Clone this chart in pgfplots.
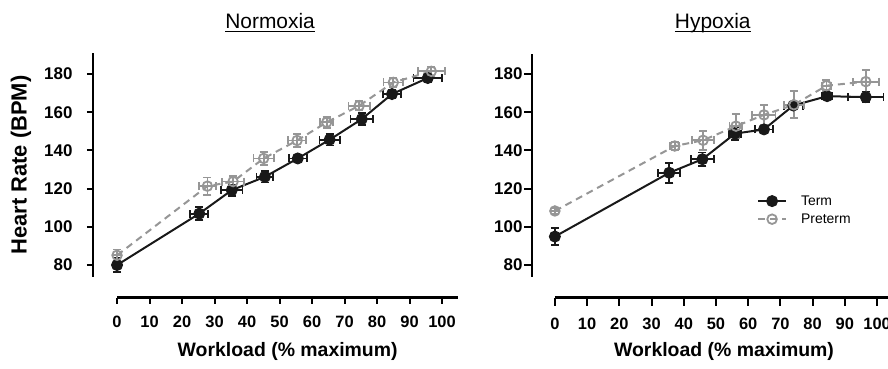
\documentclass[border=0pt]{standalone}
\usepackage{fontspec}
\setmainfont{Liberation Sans}
\usepackage{pgfplots}
\usepackage{pgfplotstable}
\pgfplotsset{compat=1.18}
\definecolor{termc}{RGB}{25,25,25}
\definecolor{prec}{RGB}{150,150,150}
\newcommand\ul[1]{\setbox0\hbox{#1}\rlap{\rule[-3.5bp]{\wd0}{1.3bp}}\box0}

% x y ex ey
\pgfplotstableread{
x y ex ey
0 80.0 0 3.5
25.3 106.9 2.8 3.5
35.3 119.2 3.3 3
45.5 126.2 2.6 3
55.6 135.8 2.8 2
65.4 145.6 3.1 3
75.3 156.4 3.5 3
84.6 169.5 2.8 2
95.6 177.9 4.4 2
}\normterm
\pgfplotstableread{
x y ex ey
0 85.1 0 3
27.8 121.3 2.7 4.5
35.7 123.7 3.3 2.8
45.1 135.8 3.1 3.3
55.4 145.2 2.8 3.5
64.5 154.7 2 3
74.5 163.4 3.3 2.5
85.0 175.6 3 2.5
96.7 181.4 4.1 2.5
}\normpre
\pgfplotstableread{
x y ex ey
0 94.9 0 4.5
35.5 128.3 3.4 5.3
45.8 135.4 3.5 3.5
55.9 148.8 1.8 3.5
64.9 151.0 2.8 2
74.0 163.5 3 2
84.5 168.4 1.5 1.5
96.5 167.9 5.5 2.5
}\hypterm
\pgfplotstableread{
x y ex ey
0 108.3 0 1.5
37.2 142.3 1.5 2
46.0 145.3 3.5 5
56.2 152.7 2 6.2
64.9 158.6 3.6 5.2
74.2 163.9 3 7.1
84.3 173.9 1.5 3
96.5 176.0 4 6
}\hyppre

\pgfplotsset{
 panel/.style={
  scale only axis, height=244.5bp,
  ymin=63, ymax=191,
  axis x line*=bottom, axis y line*=left,
  axis line style={draw=none},
  tick align=outside,
  major tick length=6bp,
  tick style={line width=2bp, black},
  xtick={0,10,...,100}, ytick={80,100,...,180},
  minor tick num=0,
  /pgf/number format/assume math mode=true,
  xticklabel style={font=\bfseries\fontsize{16.5}{16.5}\selectfont, yshift=-9bp},
  yticklabel style={font=\bfseries\fontsize{17}{17}\selectfont},
  clip=false,
  xlabel={Workload (\% maximum)},
  xlabel style={font=\bfseries\fontsize{19.5}{20}\selectfont, at={(axis cs:52.5,63)}, anchor=base, yshift=-59bp},
  title style={font=\fontsize{21}{21}\selectfont, anchor=base},
 },
 termplot/.style={color=termc, line width=2bp, mark=*, mark size=5.5bp,
   mark options={solid, fill=termc, draw=termc, line width=1bp},
   error bars/.cd, x dir=both, x explicit, y dir=both, y explicit,
   error bar style={line width=1.8bp, solid, color=termc},
   error mark options={rotate=90, mark size=4bp, line width=1.8bp, color=termc, solid}},
 preplot/.style={color=prec, line width=2bp, dash pattern=on 7bp off 5bp, mark=o, mark size=4.8bp,
   mark options={solid, draw=prec, fill=none, line width=1.8bp},
   error bars/.cd, x dir=both, x explicit, y dir=both, y explicit,
   error bar style={line width=1.8bp, solid, color=prec},
   error mark options={rotate=90, mark size=4bp, line width=1.8bp, color=prec, solid}},
}

\begin{document}
\begin{tikzpicture}
\useasboundingbox (0,0) rectangle (888bp,369bp);
\begin{axis}[panel, at={(93bp,71.5bp)}, anchor=south west,
  width=365.3bp, xmin=-7.4, xmax=105,
  title={\ul{Normoxia}}, title style={at={(axis cs:47.1,200.8)}},
  yticklabel style={xshift=-11bp},
  ylabel={Heart Rate (BPM)},
  ylabel style={font=\bfseries\fontsize{22}{22}\selectfont, at={(axis cs:-7.4,132.4)}, anchor=center, yshift=72bp},
]
\draw[line width=2bp, black] (axis cs:-7.4,73.8) -- (axis cs:-7.4,191);
\draw[line width=2bp, black] (axis cs:0,63) -- (axis cs:105,63);
\addplot[termplot] table[x=x, y=y, x error=ex, y error=ey] {\normterm};
\addplot[preplot] table[x=x, y=y, x error=ex, y error=ey] {\normpre};
\end{axis}

\begin{axis}[panel, at={(532bp,71.5bp)}, anchor=south west,
  width=355.7bp, xmin=-7.1, xmax=103.3,
  title={\ul{Hypoxia}}, title style={at={(axis cs:49,200.8)}},
  major tick length=8bp,
  yticklabel style={xshift=2bp},
  legend style={at={(axis cs:62.7,117)}, anchor=north west, draw=none, fill=none,
    font=\fontsize{14}{15}\selectfont, row sep=5bp, inner sep=0pt, nodes={inner sep=1bp}},
  legend cell align=left,
  legend image code/.code={\draw[mark repeat=2,mark phase=2,#1] plot coordinates {(0bp,0bp)(14bp,0bp)(28bp,0bp)}; \path (41bp,0bp);},
]
\draw[line width=2bp, black] (axis cs:-7.1,73.9) -- (axis cs:-7.1,190.4);
\draw[line width=2bp, black] (axis cs:0,63) -- (axis cs:103.3,63);
\addplot[termplot] table[x=x, y=y, x error=ex, y error=ey] {\hypterm};
\addlegendentry{Term}
\addplot[preplot] table[x=x, y=y, x error=ex, y error=ey] {\hyppre};
\addlegendentry{Preterm}
\end{axis}
\end{tikzpicture}
\end{document}
